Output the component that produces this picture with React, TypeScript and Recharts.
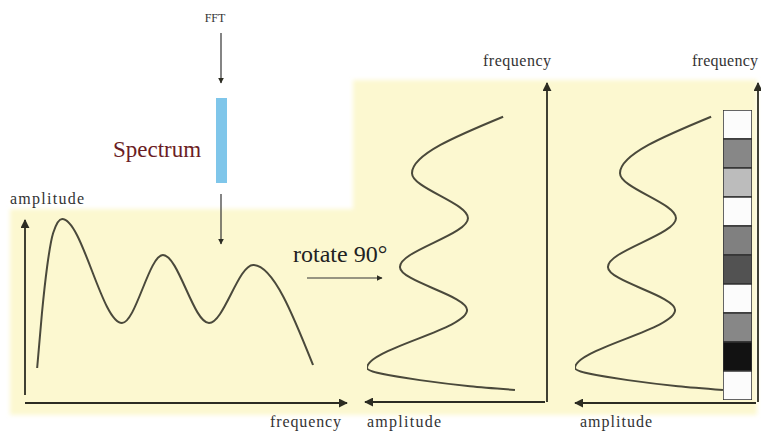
import { LineChart, Line, XAxis, YAxis, BarChart, Bar, Cell } from "recharts"

// spectrum before rotation (frequency -> amplitude)
const spectrumFreq = [0.38, 0.53, 0.69, 0.88, 1.16, 3.03, 4.31, 5.75, 7.13, 9.0]
const spectrumAmp = [1.75, 4.5, 6.8, 8.5, 9.2, 4.0, 7.4, 4.0, 6.9, 1.9]

// spectrum after rotating 90 degrees (bottom to top)
const rotFreq = [0.38, 0.5, 0.69, 1.07, 2.9, 4.26, 5.8, 7.22, 9.0]
const rotAmp = [1.78, 4.28, 7.06, 10.0, 4.44, 8.17, 4.39, 7.5, 2.44]

// grey level of each cell in the strip, top to bottom (0 = black, 255 = white)
const stripLevels = [252, 135, 188, 252, 128, 82, 252, 135, 18, 252]

const spectrumData = spectrumFreq.map((f, i) => ({ f, a: spectrumAmp[i] }))
const rotData = rotFreq.map((f, i) => ({ f, a: rotAmp[i] }))
const stripData = stripLevels.map((g, i) => ({ cell: "c" + i, v: 1, g }))

const curveColor = "#4a493b"
const axisColor = "#2c2c22"
const panelColor = "#fcf8d0"
const serif = "'Liberation Serif', 'DejaVu Serif', serif"

function RotatedSpectrum({ left }: { left: number }) {
  return (
    <div style={{ position: "absolute", left, top: 85 }}>
      <LineChart width={180} height={317} data={rotData} layout="vertical" margin={{ top: 0, right: 0, bottom: 0, left: 0 }}>
        <XAxis type="number" dataKey="a" domain={[0, 10]} reversed hide />
        <YAxis type="number" dataKey="f" domain={[0, 10]} reversed hide />
        <Line type="monotone" dataKey="a" stroke={curveColor} strokeWidth={2} dot={false} isAnimationActive={false} />
      </LineChart>
    </div>
  )
}

export default function App() {
  return (
    <div style={{ position: "absolute", left: 0, top: 0, width: 761, height: 441, background: "#fff", overflow: "hidden", fontFamily: serif }}>
      <svg width={761} height={441} style={{ position: "absolute", left: 0, top: 0 }}>
        <defs>
          <filter id="soft" x="-5%" y="-5%" width="110%" height="110%">
            <feGaussianBlur stdDeviation="2" />
          </filter>
        </defs>
        <path d="M10 209 H353 V80 H757 V415 H10 Z" fill={panelColor} filter="url(#soft)" />
      </svg>

      <div style={{ position: "absolute", left: 25, top: 203 }}>
        <LineChart width={320} height={200} data={spectrumData} margin={{ top: 0, right: 0, bottom: 0, left: 0 }}>
          <XAxis type="number" dataKey="f" domain={[0, 10]} hide />
          <YAxis type="number" domain={[0, 10]} hide />
          <Line type="monotone" dataKey="a" stroke={curveColor} strokeWidth={2} dot={false} isAnimationActive={false} />
        </LineChart>
      </div>

      <RotatedSpectrum left={367} />
      <RotatedSpectrum left={575} />

      <div style={{ position: "absolute", left: 723, top: 110 }}>
        <BarChart width={29} height={290} data={stripData} layout="vertical" barCategoryGap={0} margin={{ top: 0, right: 0, bottom: 0, left: 0 }}>
          <XAxis type="number" domain={[0, 1]} hide />
          <YAxis type="category" dataKey="cell" hide />
          <Bar dataKey="v" stroke="#333" strokeWidth={1.5} isAnimationActive={false}>
            {stripData.map((d) => (
              <Cell key={d.cell} fill={`rgb(${d.g},${d.g},${d.g})`} />
            ))}
          </Bar>
        </BarChart>
      </div>

      <svg width={761} height={441} style={{ position: "absolute", left: 0, top: 0, pointerEvents: "none" }}>
        <defs>
          <marker id="head" viewBox="0 0 10 10" refX="9" refY="5" markerWidth="5" markerHeight="5" orient="auto">
            <path d="M0 0 L10 5 L0 10 Z" fill={axisColor} />
          </marker>
        </defs>
        <g stroke={axisColor} strokeWidth={1.8} markerEnd="url(#head)">
          <line x1={25} y1={395} x2={25} y2={220} />
          <line x1={25} y1={403} x2={347} y2={403} />
          <line x1={547} y1={402} x2={547} y2={83} />
          <line x1={545} y1={402} x2={365} y2={402} />
          <line x1={758} y1={402} x2={758} y2={83} />
          <line x1={756} y1={403} x2={575} y2={403} />
        </g>
        <g stroke="#333" strokeWidth={1.2} markerEnd="url(#head)">
          <line x1={221} y1={33} x2={221} y2={83} />
          <line x1={221} y1={194} x2={221} y2={244} />
          <line x1={307} y1={278} x2={382} y2={278} />
        </g>
        <rect x={216} y={98} width={11} height={85} fill="#7fc6ea" />

        <g fontFamily={serif} fill="#333" fontSize={16}>
          <text x={215} y={22} textAnchor="middle" fontSize={12}>FFT</text>
          <text x={10} y={204} textLength={74} lengthAdjust="spacing">amplitude</text>
          <text x={270} y={427} textLength={71} lengthAdjust="spacing">frequency</text>
          <text x={367} y={427} textLength={74} lengthAdjust="spacing">amplitude</text>
          <text x={580} y={427} textLength={72} lengthAdjust="spacing">amplitude</text>
          <text x={483} y={66} textLength={68} lengthAdjust="spacing">frequency</text>
          <text x={692} y={66} textLength={66} lengthAdjust="spacing">frequency</text>
        </g>
        <text x={113} y={157} fontFamily={serif} fontSize={23} fill="#6b1d24">Spectrum</text>
        <text x={293} y={262} fontFamily={serif} fontSize={24} fill="#222">rotate 90°</text>
      </svg>
    </div>
  )
}
